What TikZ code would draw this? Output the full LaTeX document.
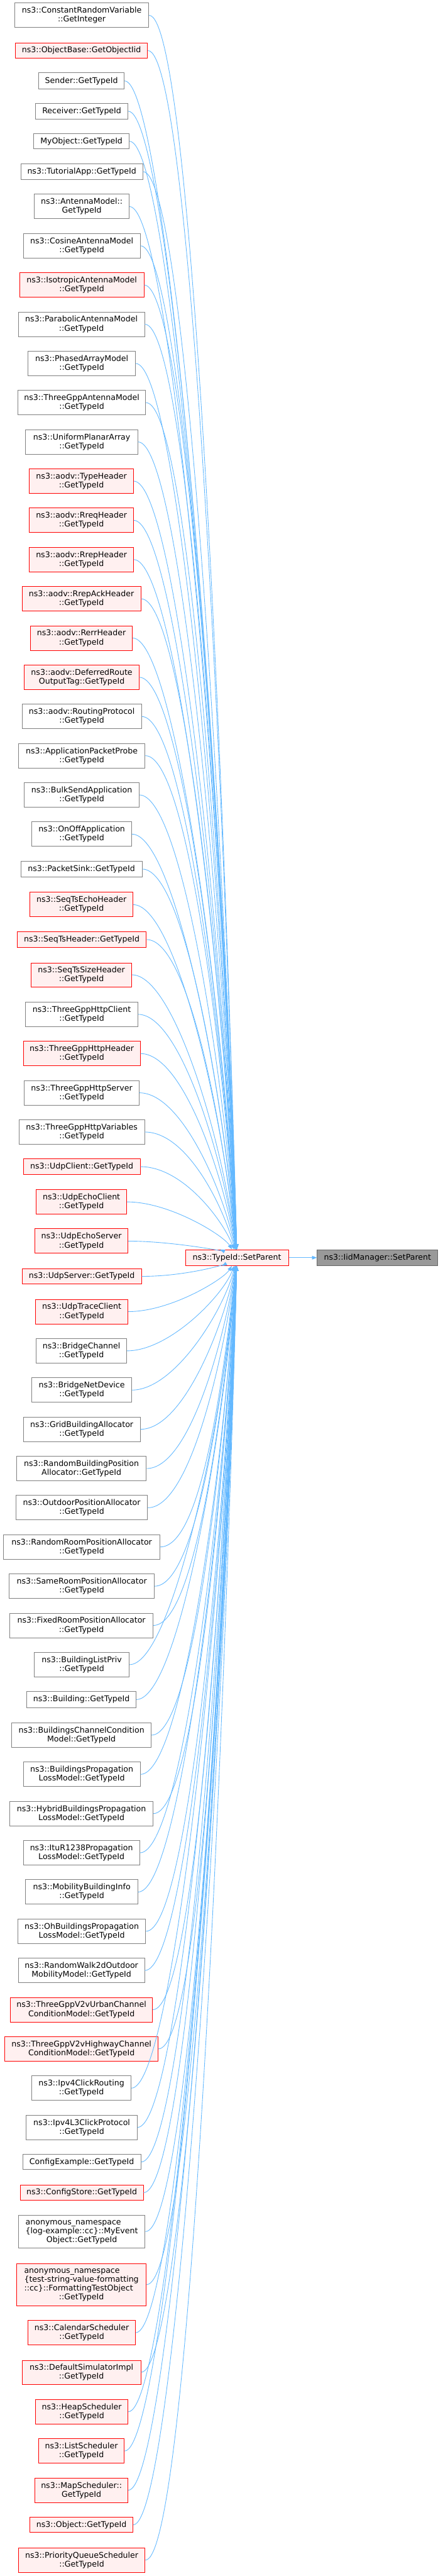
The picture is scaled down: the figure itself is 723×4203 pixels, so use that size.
\documentclass[tikz,border=0pt]{standalone}
\usepackage{fontspec}
\setmainfont{DejaVu Sans}
\usetikzlibrary{arrows.meta}
\definecolor{edgec}{HTML}{63B8FF}
\definecolor{redb}{HTML}{FF0000}
\definecolor{redf}{HTML}{FFF0F0}
\definecolor{grayb}{HTML}{808080}
\definecolor{rootf}{HTML}{999999}
\definecolor{rootb}{HTML}{666666}
\tikzset{
  base/.style={draw, line width=1pt, inner sep=0pt, align=center, font=\fontsize{12.9}{14.5}\selectfont},
  wn/.style={base, draw=grayb, fill=white},
  rn/.style={base, draw=redb, fill=redf},
  rootn/.style={base, draw=rootb, fill=rootf},
  edge/.style={draw=edgec, line width=0.9pt, -{Triangle[length=8pt,width=6pt]}},
}
\newcommand\nb[7]{%
  \node[#6, minimum width={(#4-#2)*1pt}, minimum height={(#5-#3)*1pt}] (#1) at ({(#2+#4)/2},{(#3+#5)/2}) {#7};
  \draw[edge] (#1.east) .. controls ({#4+70},{(#3+#5)/2}) and ({365},{(#3+#5)/2*0.4+2052*0.6}) .. (sp);
}
\begin{document}
\begin{tikzpicture}[x=1pt,y=-1pt]
\useasboundingbox (0,0) rectangle (723,4203);
\node[rn, minimum width=168pt, minimum height=26pt] (sp) at (387,2052) {ns3::TypeId::SetParent};
\node[rootn, minimum width=197pt, minimum height=26pt] (root) at (616.5,2052) {ns3::IidManager::SetParent};
\draw[edge] (sp) -- (root);
\nb{n1}{24}{5}{243}{45}{wn}{ns3::ConstantRandomVariable\\::GetInteger}
\nb{n2}{25}{70}{241}{95}{rn}{ns3::ObjectBase::GetObjectIid}
\nb{n3}{63}{119}{203}{145}{wn}{Sender::GetTypeId}
\nb{n4}{58}{169}{209}{194}{wn}{Receiver::GetTypeId}
\nb{n5}{55}{218}{211}{243}{wn}{MyObject::GetTypeId}
\nb{n6}{34}{267}{233}{293}{wn}{ns3::TutorialApp::GetTypeId}
\nb{n7}{56}{317}{211}{357}{wn}{ns3::AntennaModel::\\GetTypeId}
\nb{n8}{38}{381}{229}{421}{wn}{ns3::CosineAntennaModel\\::GetTypeId}
\nb{n9}{32}{445}{235}{485}{rn}{ns3::IsotropicAntennaModel\\::GetTypeId}
\nb{n10}{30}{509}{236}{549}{wn}{ns3::ParabolicAntennaModel\\::GetTypeId}
\nb{n11}{46}{573}{221}{613}{wn}{ns3::PhasedArrayModel\\::GetTypeId}
\nb{n12}{29}{637}{238}{677}{wn}{ns3::ThreeGppAntennaModel\\::GetTypeId}
\nb{n13}{42}{701}{225}{741}{wn}{ns3::UniformPlanarArray\\::GetTypeId}
\nb{n14}{48}{765}{218}{805}{rn}{ns3::aodv::TypeHeader\\::GetTypeId}
\nb{n15}{48}{829}{218}{869}{rn}{ns3::aodv::RreqHeader\\::GetTypeId}
\nb{n16}{48}{893}{218}{933}{rn}{ns3::aodv::RrepHeader\\::GetTypeId}
\nb{n17}{36}{957}{230}{997}{rn}{ns3::aodv::RrepAckHeader\\::GetTypeId}
\nb{n18}{50}{1021}{216}{1061}{rn}{ns3::aodv::RerrHeader\\::GetTypeId}
\nb{n19}{40}{1085}{227}{1125}{rn}{ns3::aodv::DeferredRoute\\OutputTag::GetTypeId}
\nb{n20}{36}{1149}{231}{1189}{wn}{ns3::aodv::RoutingProtocol\\::GetTypeId}
\nb{n21}{30}{1213}{237}{1253}{wn}{ns3::ApplicationPacketProbe\\::GetTypeId}
\nb{n22}{40}{1277}{227}{1317}{wn}{ns3::BulkSendApplication\\::GetTypeId}
\nb{n23}{52}{1341}{215}{1381}{wn}{ns3::OnOffApplication\\::GetTypeId}
\nb{n24}{34}{1405}{232}{1431}{wn}{ns3::PacketSink::GetTypeId}
\nb{n25}{49}{1456}{217}{1496}{rn}{ns3::SeqTsEchoHeader\\::GetTypeId}
\nb{n26}{28}{1520}{239}{1546}{rn}{ns3::SeqTsHeader::GetTypeId}
\nb{n27}{51}{1571}{215}{1610}{rn}{ns3::SeqTsSizeHeader\\::GetTypeId}
\nb{n28}{42}{1635}{225}{1675}{wn}{ns3::ThreeGppHttpClient\\::GetTypeId}
\nb{n29}{38}{1699}{229}{1739}{rn}{ns3::ThreeGppHttpHeader\\::GetTypeId}
\nb{n30}{40}{1763}{227}{1803}{wn}{ns3::ThreeGppHttpServer\\::GetTypeId}
\nb{n31}{31}{1827}{236}{1867}{wn}{ns3::ThreeGppHttpVariables\\::GetTypeId}
\nb{n32}{38}{1891}{229}{1916}{rn}{ns3::UdpClient::GetTypeId}
\nb{n33}{59}{1941}{207}{1981}{rn}{ns3::UdpEchoClient\\::GetTypeId}
\nb{n34}{57}{2005}{209}{2045}{rn}{ns3::UdpEchoServer\\::GetTypeId}
\nb{n35}{36}{2070}{231}{2095}{rn}{ns3::UdpServer::GetTypeId}
\nb{n36}{58}{2120}{209}{2160}{rn}{ns3::UdpTraceClient\\::GetTypeId}
\nb{n37}{59}{2184}{207}{2224}{wn}{ns3::BridgeChannel\\::GetTypeId}
\nb{n38}{52}{2248}{215}{2288}{wn}{ns3::BridgeNetDevice\\::GetTypeId}
\nb{n39}{38}{2312}{229}{2352}{wn}{ns3::GridBuildingAllocator\\::GetTypeId}
\nb{n40}{27}{2376}{239}{2416}{wn}{ns3::RandomBuildingPosition\\Allocator::GetTypeId}
\nb{n41}{26}{2440}{241}{2480}{wn}{ns3::OutdoorPositionAllocator\\::GetTypeId}
\nb{n42}{6}{2504}{261}{2544}{wn}{ns3::RandomRoomPositionAllocator\\::GetTypeId}
\nb{n43}{15}{2568}{252}{2608}{wn}{ns3::SameRoomPositionAllocator\\::GetTypeId}
\nb{n44}{16}{2632}{250}{2672}{wn}{ns3::FixedRoomPositionAllocator\\::GetTypeId}
\nb{n45}{56}{2696}{211}{2736}{wn}{ns3::BuildingListPriv\\::GetTypeId}
\nb{n46}{44}{2760}{222}{2786}{wn}{ns3::Building::GetTypeId}
\nb{n47}{19}{2811}{247}{2851}{wn}{ns3::BuildingsChannelCondition\\Model::GetTypeId}
\nb{n48}{38}{2875}{229}{2915}{wn}{ns3::BuildingsPropagation\\LossModel::GetTypeId}
\nb{n49}{16}{2939}{250}{2979}{wn}{ns3::HybridBuildingsPropagation\\LossModel::GetTypeId}
\nb{n50}{38}{3003}{228}{3043}{wn}{ns3::ItuR1238Propagation\\LossModel::GetTypeId}
\nb{n51}{42}{3067}{225}{3107}{wn}{ns3::MobilityBuildingInfo\\::GetTypeId}
\nb{n52}{29}{3131}{238}{3171}{wn}{ns3::OhBuildingsPropagation\\LossModel::GetTypeId}
\nb{n53}{30}{3195}{236}{3235}{wn}{ns3::RandomWalk2dOutdoor\\MobilityModel::GetTypeId}
\nb{n54}{17}{3259}{249}{3299}{rn}{ns3::ThreeGppV2vUrbanChannel\\ConditionModel::GetTypeId}
\nb{n55}{8}{3323}{258}{3363}{rn}{ns3::ThreeGppV2vHighwayChannel\\ConditionModel::GetTypeId}
\nb{n56}{52}{3387}{214}{3427}{wn}{ns3::Ipv4ClickRouting\\::GetTypeId}
\nb{n57}{43}{3451}{224}{3491}{wn}{ns3::Ipv4L3ClickProtocol\\::GetTypeId}
\nb{n58}{37}{3515}{230}{3540}{wn}{ConfigExample::GetTypeId}
\nb{n59}{33}{3565}{234}{3590}{rn}{ns3::ConfigStore::GetTypeId}
\nb{n60}{30}{3614}{237}{3668}{wn}{\begin{tabular}{@{}l@{}}anonymous\_namespace\\\{log-example::cc\}::MyEvent\\\multicolumn{1}{@{}c@{}}{Object::GetTypeId}\end{tabular}}
\nb{n61}{27}{3693}{239}{3762}{rn}{\begin{tabular}{@{}l@{}}anonymous\_namespace\\\{test-string-value-formatting\\::cc\}::FormattingTestObject\\\multicolumn{1}{@{}c@{}}{::GetTypeId}\end{tabular}}
\nb{n62}{46}{3786}{221}{3826}{rn}{ns3::CalendarScheduler\\::GetTypeId}
\nb{n63}{36}{3851}{230}{3890}{rn}{ns3::DefaultSimulatorImpl\\::GetTypeId}
\nb{n64}{58}{3915}{209}{3955}{rn}{ns3::HeapScheduler\\::GetTypeId}
\nb{n65}{63}{3979}{203}{4019}{rn}{ns3::ListScheduler\\::GetTypeId}
\nb{n66}{57}{4043}{209}{4083}{rn}{ns3::MapScheduler::\\GetTypeId}
\nb{n67}{49}{4107}{217}{4132}{rn}{ns3::Object::GetTypeId}
\nb{n68}{30}{4157}{237}{4197}{rn}{ns3::PriorityQueueScheduler\\::GetTypeId}
\end{tikzpicture}
\end{document}
